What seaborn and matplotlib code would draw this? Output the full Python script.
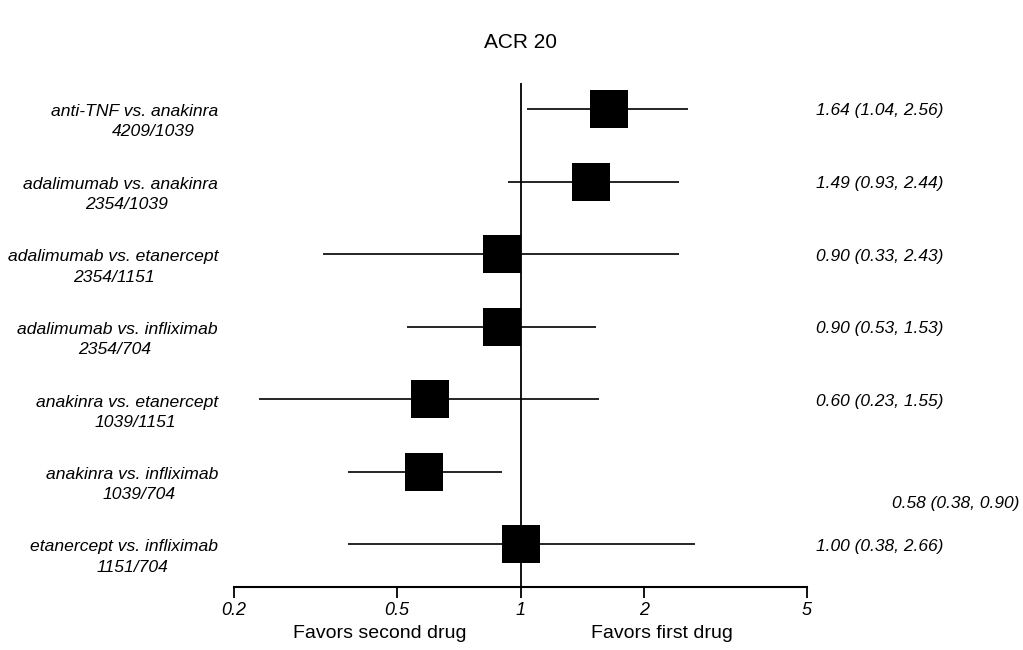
import numpy as np
import matplotlib
matplotlib.use('Agg')
import matplotlib.pyplot as plt
import seaborn as sns

comparisons = [
    'anti-TNF vs. anakinra',
    'adalimumab vs. anakinra',
    'adalimumab vs. etanercept',
    'adalimumab vs. infliximab',
    'anakinra vs. etanercept',
    'anakinra vs. infliximab',
    'etanercept vs. infliximab',
]
sample_sizes = ['4209/1039', '2354/1039', '2354/1151', '2354/704',
                '1039/1151', '1039/704', '1151/704']
odds_ratio = [1.64, 1.49, 0.90, 0.90, 0.60, 0.58, 1.00]
ci_low = [1.04, 0.93, 0.33, 0.53, 0.23, 0.38, 0.38]
ci_high = [2.56, 2.44, 2.43, 1.53, 1.55, 0.90, 2.66]
tick_vals = [0.2, 0.5, 1, 2, 5]
tick_labels = ['0.2', '0.5', '1', '2', '5']

# pixel centres of the second label line (they are not aligned in the original)
n_label_x = [153, 127, 114, 115, 135, 139, 132]

sns.set_style('white')
plt.rcParams['font.family'] = ['Liberation Sans', 'DejaVu Sans']
plt.rcParams['text.color'] = 'black'
plt.rcParams['xtick.color'] = 'black'
plt.rcParams['xtick.labelcolor'] = 'black'

rows = np.arange(len(comparisons))
row_px = 72.5

fig = plt.figure(figsize=(10.23, 6.5), dpi=100)
ax = fig.add_axes([234 / 1023, 1 - 587 / 650, 573 / 1023, 504 / 650])

ax.hlines(rows, ci_low, ci_high, color='black', lw=1.2)
sns.scatterplot(x=odds_ratio, y=rows, marker='s', s=760, color='black',
                edgecolor='black', linewidth=0, ax=ax, zorder=3)
ax.axvline(1, color='black', lw=1.3)

ax.set_xscale('log')
ax.set_xlim(0.2, 5)
ax.set_ylim((587 - 109) / row_px, -(109 - 83) / row_px)
ax.set_xticks(tick_vals)
ax.set_xticklabels(tick_labels, fontsize=13, style='italic')
ax.minorticks_off()
ax.set_yticks([])
ax.tick_params(axis='x', direction='out', length=8, width=1.3, pad=3,
               bottom=True, color='black')
for side in ['top', 'right', 'left']:
    ax.spines[side].set_visible(False)
ax.spines['bottom'].set_linewidth(1.5)
ax.spines['bottom'].set_color('black')

# row labels on the left
ytrans = ax.get_yaxis_transform()
for i, (name, n) in enumerate(zip(comparisons, sample_sizes)):
    ax.text((218 - 234) / 573, i + 3 / row_px, name, transform=ytrans,
            ha='right', va='center', fontsize=12.6, style='italic')
    ax.text((n_label_x[i] - 234) / 573, i + 23 / row_px, n, transform=ytrans,
            ha='center', va='center', fontsize=12.6, style='italic')

# estimates on the right
for i, (m, lo, hi) in enumerate(zip(odds_ratio, ci_low, ci_high)):
    txt = f'{m:.2f} ({lo:.2f}, {hi:.2f})'
    if i == 5:
        ax.text((892 - 234) / 573, (503 - 109) / row_px, txt, transform=ytrans,
                ha='left', va='center', fontsize=12.5, style='italic')
    else:
        ax.text((816 - 234) / 573, i + 2 / row_px, txt, transform=ytrans,
                ha='left', va='center', fontsize=12.5, style='italic')

fig.text(380 / 1023, 1 - 634 / 650, 'Favors second drug', ha='center',
         va='center', fontsize=14)
fig.text(662 / 1023, 1 - 634 / 650, 'Favors first drug', ha='center',
         va='center', fontsize=14)
fig.text(520 / 1023, 1 - 42 / 650, 'ACR 20', ha='center', va='center',
         fontsize=15)

fig.savefig('out.png', dpi=100)
plt.close(fig)
